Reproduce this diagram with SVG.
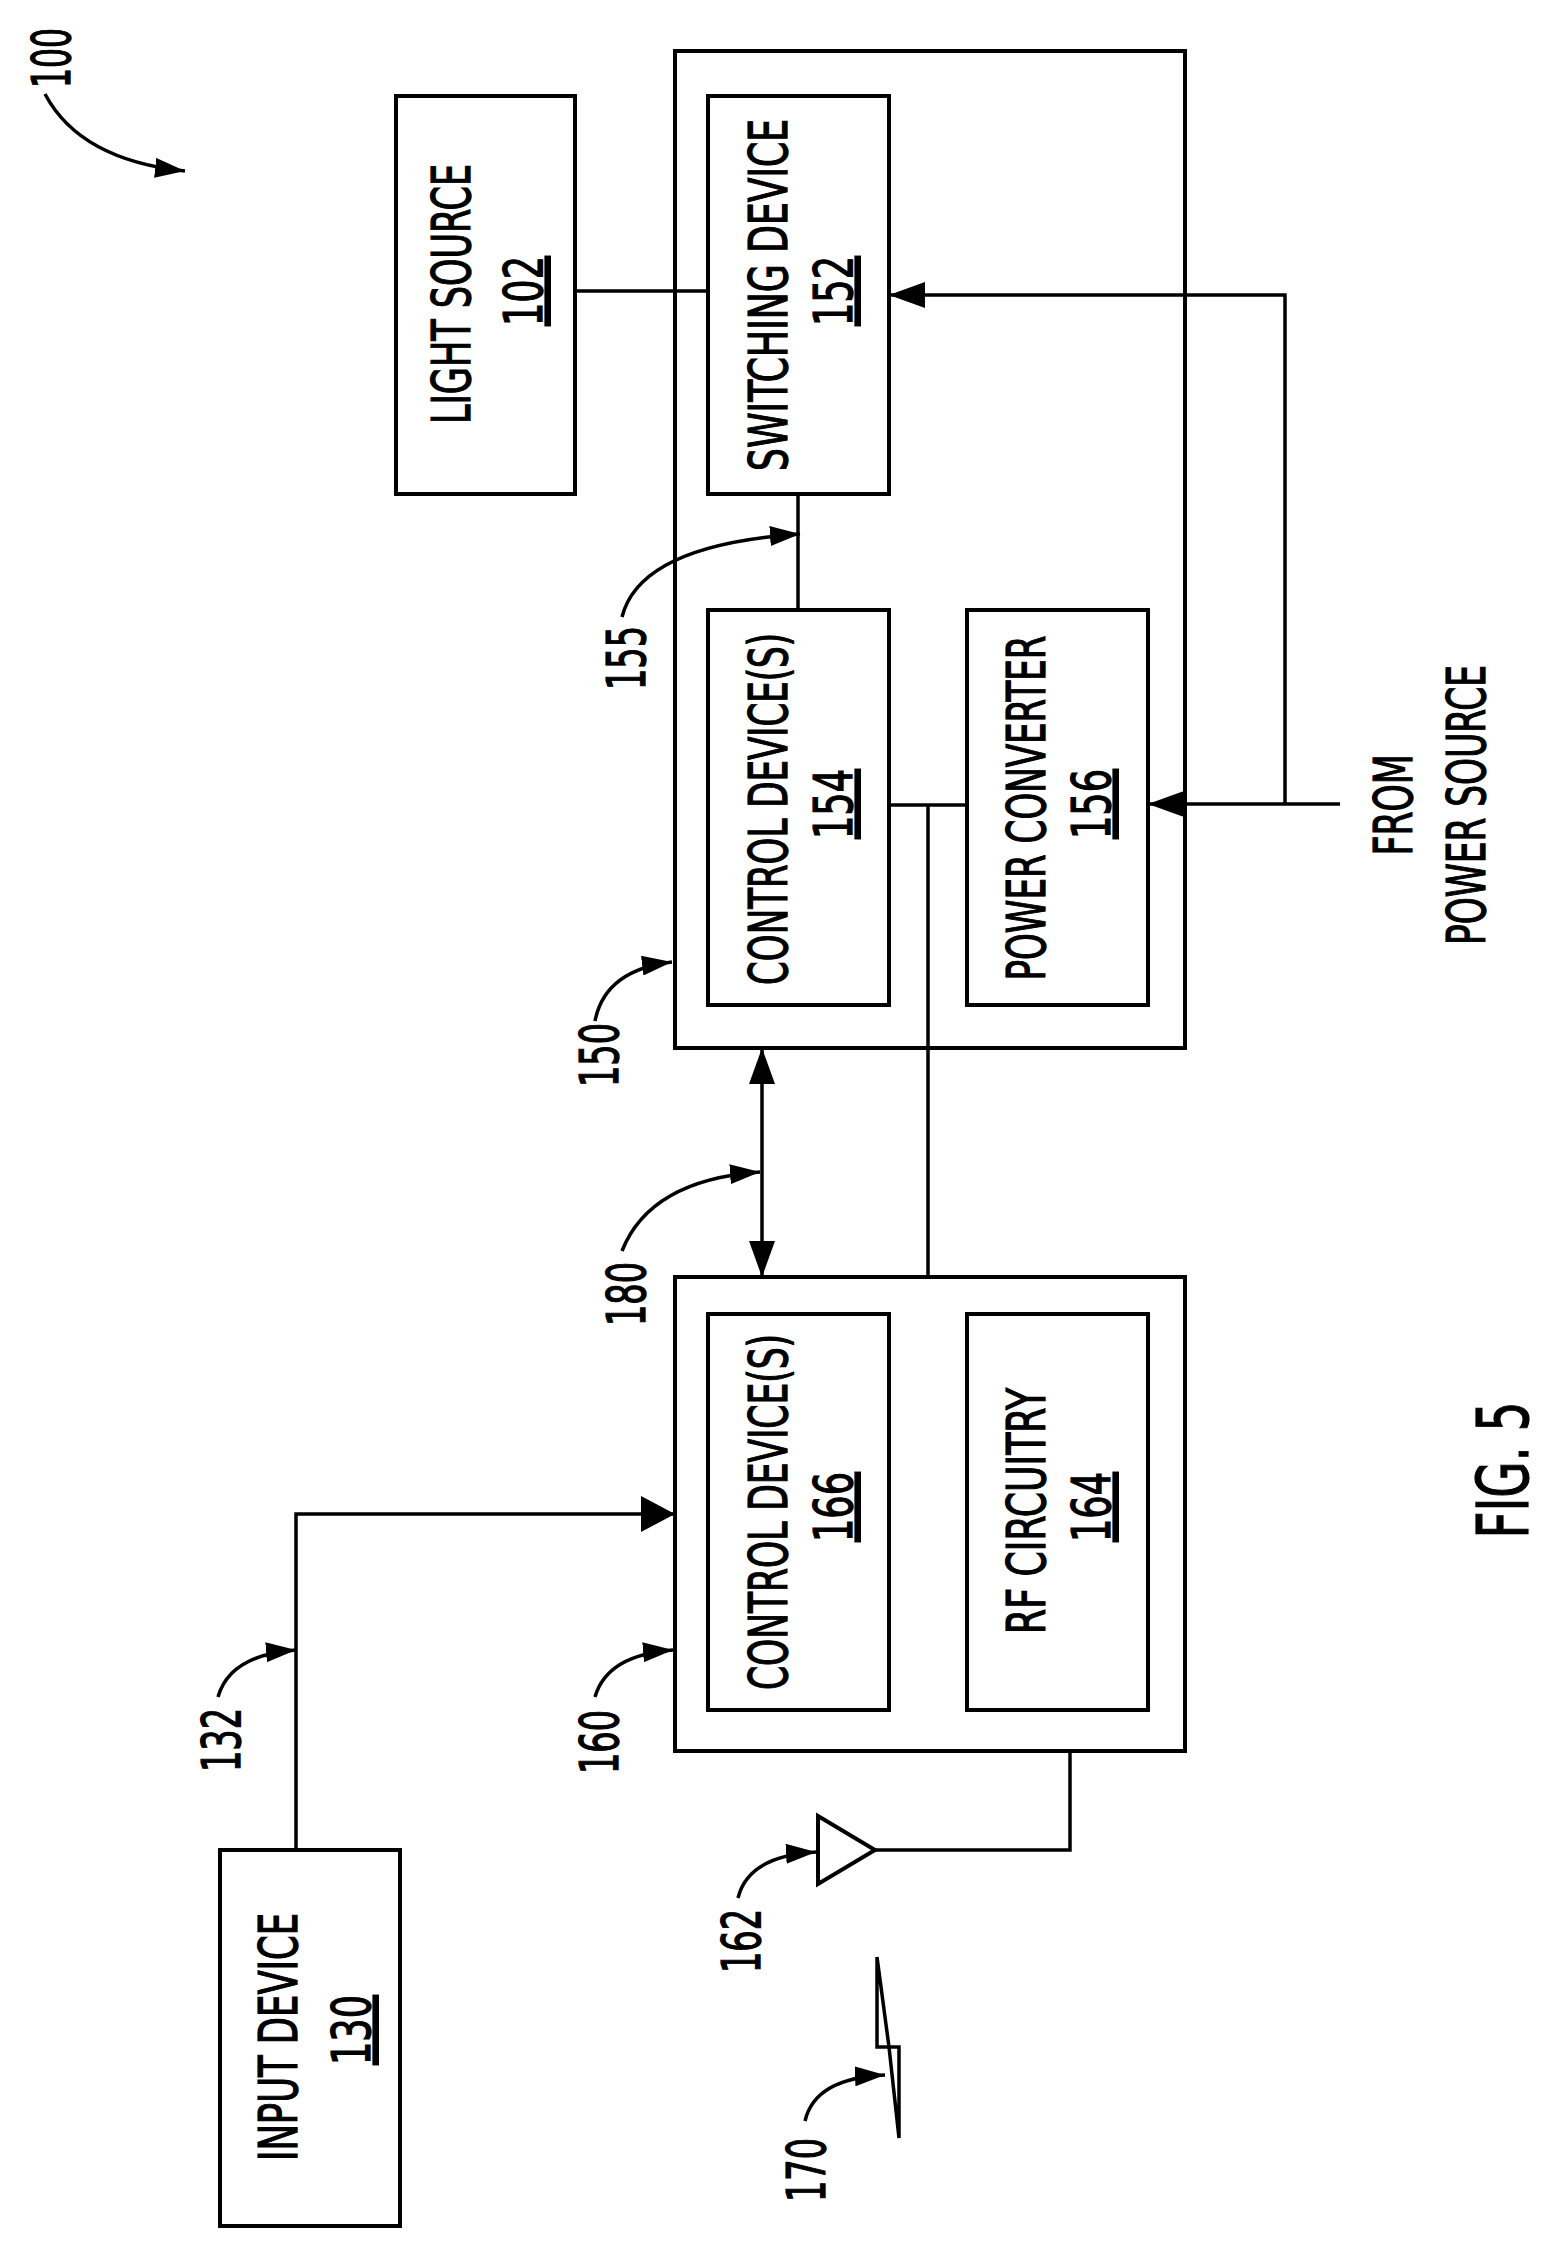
<svg xmlns="http://www.w3.org/2000/svg" width="1551" height="2245" viewBox="0 0 1551 2245">
<style>
.b{fill:none;stroke:#000;stroke-width:4}
.l{fill:none;stroke:#000;stroke-width:3.5}
.t{font-family:"DejaVu Sans Condensed","DejaVu Sans",sans-serif;font-size:54px;fill:#000;stroke:#000;stroke-width:1.2;text-anchor:middle}
.u{text-decoration:underline}
</style>
<defs>
<marker id="a" viewBox="0 0 10 10" refX="10" refY="5" markerWidth="30" markerHeight="20" markerUnits="userSpaceOnUse" orient="auto" preserveAspectRatio="none"><path d="M0,0L10,5L0,10z"/></marker>
<marker id="s" viewBox="0 0 10 10" refX="10" refY="5" markerWidth="36" markerHeight="26" markerUnits="userSpaceOnUse" orient="auto" preserveAspectRatio="none"><path d="M0,0L10,5L0,10z"/></marker>
<marker id="m" viewBox="0 0 10 10" refX="10" refY="5" markerWidth="34" markerHeight="36" markerUnits="userSpaceOnUse" orient="auto" preserveAspectRatio="none"><path d="M0,0L10,5L0,10z"/></marker>
</defs>
<g id="n102"><rect class="b" x="396" y="96" width="179" height="398"/>
<text class="t" transform="translate(470,294) rotate(-90)" textLength="260" lengthAdjust="spacingAndGlyphs">LIGHT SOURCE</text>
<text class="t u" transform="translate(542,291) rotate(-90)" textLength="70" lengthAdjust="spacingAndGlyphs">102</text></g>
<g id="n150"><rect class="b" x="675" y="51" width="510" height="997"/></g>
<g id="n152"><rect class="b" x="708" y="96" width="181" height="398"/>
<text class="t" transform="translate(787,295) rotate(-90)" textLength="352" lengthAdjust="spacingAndGlyphs">SWITCHING DEVICE</text>
<text class="t u" transform="translate(852,291) rotate(-90)" textLength="70" lengthAdjust="spacingAndGlyphs">152</text></g>
<g id="n154"><rect class="b" x="708" y="610" width="181" height="395"/>
<text class="t" transform="translate(787,809) rotate(-90)" textLength="352" lengthAdjust="spacingAndGlyphs">CONTROL DEVICE(S)</text>
<text class="t u" transform="translate(852,804) rotate(-90)" textLength="70" lengthAdjust="spacingAndGlyphs">154</text></g>
<g id="n156"><rect class="b" x="967" y="610" width="181" height="395"/>
<text class="t" transform="translate(1045,808) rotate(-90)" textLength="345" lengthAdjust="spacingAndGlyphs">POWER CONVERTER</text>
<text class="t u" transform="translate(1110,804) rotate(-90)" textLength="70" lengthAdjust="spacingAndGlyphs">156</text></g>
<g id="n160"><rect class="b" x="675" y="1277" width="510" height="474"/></g>
<g id="n166"><rect class="b" x="708" y="1314" width="181" height="396"/>
<text class="t" transform="translate(787,1512) rotate(-90)" textLength="356" lengthAdjust="spacingAndGlyphs">CONTROL DEVICE(S)</text>
<text class="t u" transform="translate(852,1507) rotate(-90)" textLength="70" lengthAdjust="spacingAndGlyphs">166</text></g>
<g id="n164"><rect class="b" x="967" y="1314" width="181" height="396"/>
<text class="t" transform="translate(1045,1511) rotate(-90)" textLength="246" lengthAdjust="spacingAndGlyphs">RF CIRCUITRY</text>
<text class="t u" transform="translate(1110,1507) rotate(-90)" textLength="70" lengthAdjust="spacingAndGlyphs">164</text></g>
<g id="n130"><rect class="b" x="220" y="1850" width="180" height="376"/>
<text class="t" transform="translate(297,2037) rotate(-90)" textLength="248" lengthAdjust="spacingAndGlyphs">INPUT DEVICE</text>
<text class="t u" transform="translate(370,2030) rotate(-90)" textLength="70" lengthAdjust="spacingAndGlyphs">130</text></g>
<g id="n162"><polygon class="b" points="818,1816 875,1850 818,1884"/></g>
<g id="n170"><path class="l" stroke-width="3" d="M877,1957V2047H899V2138L889,2047L877,1957"/></g>
<g id="connectors">
<path class="l" d="M575,291H708"/>
<path class="l" d="M798,494V610"/>
<path class="l" d="M1340,804H1148" marker-end="url(#s)"/>
<path class="l" d="M1285,804V295H889" marker-end="url(#s)"/>
<path class="l" d="M889,805H967"/>
<path class="l" d="M928,805V1277"/>
<path class="l" d="M762,1160V1048" marker-end="url(#s)"/>
<path class="l" d="M762,1160V1277" marker-end="url(#s)"/>
<path class="l" d="M296,1850V1514H675" marker-end="url(#m)"/>
<path class="l" d="M875,1850H1070V1751"/>
<path class="l" d="M45,94Q80,160 185,171" marker-end="url(#a)"/>
<path class="l" d="M622,617Q640,545 800,534" marker-end="url(#a)"/>
<path class="l" d="M595,1021Q605,970 672,962" marker-end="url(#a)"/>
<path class="l" d="M622,1251Q650,1180 760,1172" marker-end="url(#a)"/>
<path class="l" d="M218,1697Q230,1655 296,1650" marker-end="url(#a)"/>
<path class="l" d="M595,1697Q607,1655 673,1650" marker-end="url(#a)"/>
<path class="l" d="M738,1898Q748,1856 816,1852" marker-end="url(#a)"/>
<path class="l" d="M805,2121Q815,2078 885,2075" marker-end="url(#a)"/>
</g>
<g id="labels">
<text class="t" transform="translate(70,58) rotate(-90)" textLength="60" lengthAdjust="spacingAndGlyphs">100</text>
<text class="t" transform="translate(645,658) rotate(-90)" textLength="64" lengthAdjust="spacingAndGlyphs">155</text>
<text class="t" transform="translate(618,1055) rotate(-90)" textLength="64" lengthAdjust="spacingAndGlyphs">150</text>
<text class="t" transform="translate(645,1294) rotate(-90)" textLength="64" lengthAdjust="spacingAndGlyphs">180</text>
<text class="t" transform="translate(240,1740) rotate(-90)" textLength="64" lengthAdjust="spacingAndGlyphs">132</text>
<text class="t" transform="translate(618,1742) rotate(-90)" textLength="64" lengthAdjust="spacingAndGlyphs">160</text>
<text class="t" transform="translate(760,1941) rotate(-90)" textLength="64" lengthAdjust="spacingAndGlyphs">162</text>
<text class="t" transform="translate(825,2170) rotate(-90)" textLength="64" lengthAdjust="spacingAndGlyphs">170</text>
<text class="t" transform="translate(1412,805) rotate(-90)" textLength="101" lengthAdjust="spacingAndGlyphs">FROM</text>
<text class="t" transform="translate(1485,805) rotate(-90)" textLength="280" lengthAdjust="spacingAndGlyphs">POWER SOURCE</text>
<text class="t" style="font-size:72px" transform="translate(1528,1470) rotate(-90)" textLength="137" lengthAdjust="spacingAndGlyphs">FIG. 5</text>
</g>
</svg>
